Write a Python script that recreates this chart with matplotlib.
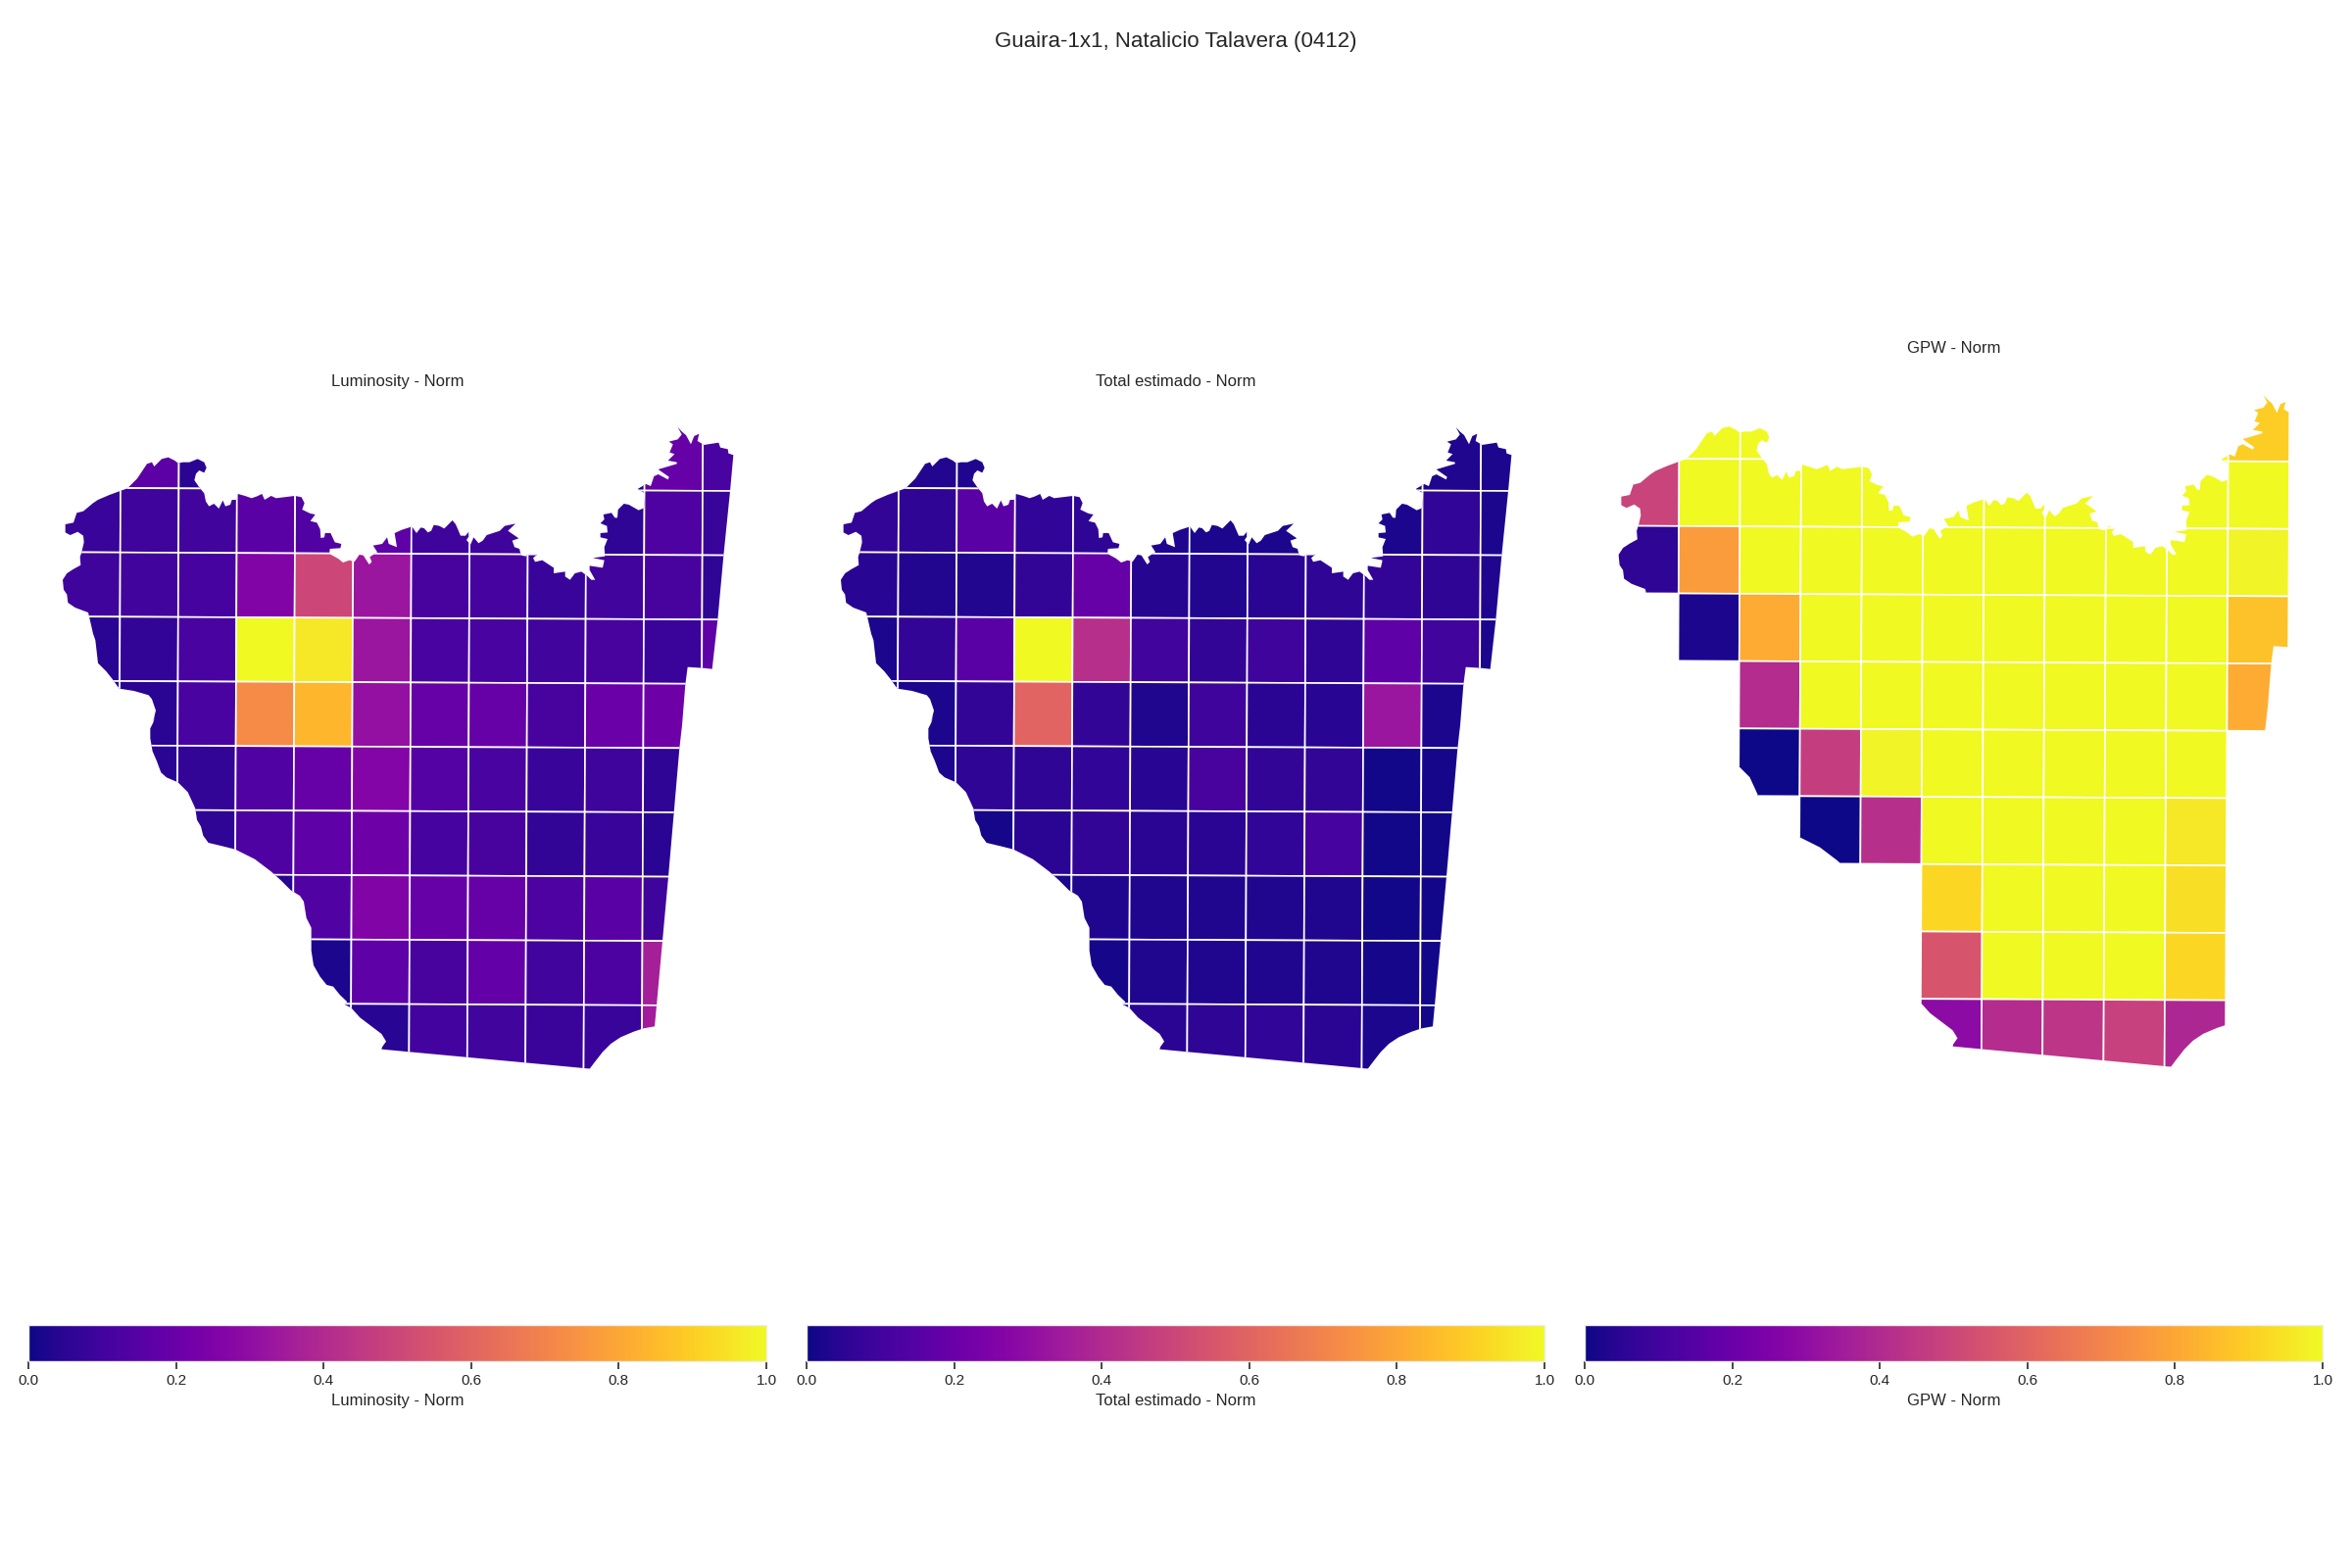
"""Guaira-1x1: three normalised grid maps side by side, each with its own colorbar."""

import matplotlib
matplotlib.use("Agg")
import matplotlib.pyplot as plt
import numpy as np
from matplotlib.cm import ScalarMappable
from matplotlib.colors import Normalize
from matplotlib.patches import PathPatch, Polygon
from matplotlib.path import Path

N = np.nan

SUPTITLE = "Guaira-1x1, Natalicio Talavera (0412)"
PANEL_TITLES = ["Luminosity - Norm", "Total estimado - Norm", "GPW - Norm"]
CBAR_TICKS = [0.0, 0.2, 0.4, 0.6, 0.8, 1.0]

# one row per grid row (north to south), one column per grid column (west to east)
luminosity = [
    [N, .165, .05, N, N, N, N, N, N, .02, .19, .12],
    [.08, .09, .10, .16, .14, .17, .09, .09, N, .055, .13, .08],
    [.09, .10, .11, .26, .50, .33, .115, .11, .08, .10, .115, .055],
    [.05, .07, .12, 1.0, .96, .33, .12, .12, .10, .115, .085, .17],
    [.03, .05, .12, .72, .84, .31, .19, .19, .115, .20, .21, N],
    [N, .05, .07, .14, .19, .265, .145, .12, .08, .09, .06, N],
    [N, N, .06, .13, .17, .21, .11, .115, .07, .08, .05, N],
    [N, N, N, .05, .14, .26, .19, .19, .13, .16, .09, N],
    [N, N, N, N, .02, .17, .115, .18, .10, .125, .36, N],
    [N, N, N, N, .03, .045, .105, .10, .085, .08, .35, N],
]
total_estimado = [
    [N, .035, .03, N, N, N, N, N, N, .02, .03, .025],
    [.07, .06, .16, .065, .06, .03, .02, .02, N, .025, .065, .025],
    [.045, .035, .035, .07, .19, .04, .035, .05, .055, .07, .055, .03],
    [.02, .07, .16, 1.0, .42, .10, .07, .09, .06, .17, .10, .02],
    [.02, .02, .07, .60, .07, .03, .09, .05, .045, .33, .02, N],
    [N, .02, .055, .06, .065, .045, .115, .07, .07, .01, .015, N],
    [N, N, .015, .05, .07, .05, .05, .065, .11, .01, .01, N],
    [N, N, N, .02, .03, .03, .03, .03, .03, .01, .01, N],
    [N, N, N, N, .015, .03, .03, .03, .03, .015, .01, N],
    [N, N, N, N, .02, .05, .055, .065, .05, .02, .01, N],
]
gpw = [
    [N, 1.0, 1.0, N, N, N, N, N, N, 1.0, .90, N],
    [.49, 1.0, 1.0, 1.0, 1.0, 1.0, 1.0, 1.0, 1.0, 1.0, 1.0, N],
    [.06, .77, 1.0, 1.0, 1.0, 1.0, 1.0, 1.0, 1.0, 1.0, .985, N],
    [N, .02, .81, 1.0, 1.0, 1.0, 1.0, 1.0, 1.0, 1.0, .87, N],
    [N, N, .41, 1.0, 1.0, 1.0, 1.0, 1.0, 1.0, 1.0, .81, N],
    [N, N, 0.0, .47, .985, 1.0, 1.0, 1.0, 1.0, 1.0, N, N],
    [N, N, N, 0.0, .42, 1.0, 1.0, 1.0, 1.0, .96, N, N],
    [N, N, N, N, N, .92, 1.0, 1.0, 1.0, .94, N, N],
    [N, N, N, N, N, .55, 1.0, 1.0, 1.0, .92, N, N],
    [N, N, N, N, N, .29, .41, .44, .48, .39, N, N],
]
PANEL_VALUES = [luminosity, total_estimado, gpw]

north_west = (40, 420, [
    (80, 345), (105, 340), (115, 310), (135, 305), (165, 280), (180, 270), (215, 255), (270, 235),
    (300, 205), (320, 175), (330, 160), (345, 155), (352, 168), (375, 145), (395, 140), (415, 150),
    (425, 158), (440, 155), (460, 155), (485, 145), (505, 155), (512, 172), (505, 187), (490, 180),
    (480, 190), (475, 210), (490, 232), (505, 250), (510, 275), (520, 290), (535, 282), (550, 297),
    (562, 272), (570, 290), (585, 285), (590, 270), (605, 270), (608, 252), (630, 258), (650, 265),
    (665, 260), (682, 252), (690, 270), (710, 258), (725, 265), (783, 258), (803, 262), (812, 280),
    (805, 300), (830, 312), (845, 315), (830, 335), (850, 340), (860, 360), (862, 387), (873, 385),
    (875, 372), (892, 372), (905, 400), (925, 405), (922, 418), (890, 420), (888, 435), (915, 450),
    (930, 462), (950, 455), (965, 460), (980, 438), (992, 440), (1010, 468), (1018, 460), (1012, 445),
    (1035, 430), (1022, 410), (1050, 405), (1065, 385), (1070, 405), (1095, 415), (1088, 372),
    (1110, 362), (1138, 353),
])
north_east = (420, 420, [
    (3, 355), (15, 372), (28, 355), (38, 357), (50, 370), (60, 365), (68, 347), (85, 350), (100, 358),
    (125, 333), (135, 345), (150, 380), (165, 380), (175, 368), (178, 378), (168, 393), (180, 408),
    (190, 385), (205, 403), (218, 395), (230, 378), (270, 365), (285, 350), (318, 343), (295, 365),
    (328, 388), (308, 395), (315, 415), (330, 420), (335, 440), (350, 443), (362, 432), (385, 437),
    (372, 448), (378, 460), (400, 455), (435, 478), (435, 495), (470, 490), (470, 505), (485, 515),
    (500, 495), (520, 490), (540, 505), (550, 515), (562, 515), (545, 485), (545, 472), (585, 478),
    (590, 455), (555, 448), (592, 443), (590, 415), (600, 390), (578, 385), (578, 372), (600, 370),
    (598, 350), (578, 342), (590, 330), (587, 315), (612, 310), (622, 325), (630, 325), (632, 300),
    (650, 282), (665, 285), (695, 302), (712, 295), (715, 250), (692, 237), (712, 225), (718, 222),
    (732, 228), (742, 198), (755, 192), (785, 208), (788, 200), (755, 177), (812, 160), (812, 155),
    (785, 150), (805, 130), (790, 125), (800, 100), (788, 92), (815, 85), (827, 70), (815, 48),
    (828, 62), (840, 72), (855, 100), (865, 75), (880, 68), (875, 90), (895, 102), (940, 95), (945, 110),
    (968, 115), (970, 128), (985, 133), (975, 243), (955, 440), (937, 637), (920, 788), (893, 785),
    (845, 782), (838, 835), (828, 960),
])
south_east = (500, 730, [
    (580, 100), (563, 297), (546, 493), (528, 690), (510, 888), (504, 952), (470, 958), (440, 968),
    (400, 985), (370, 1005), (345, 1030), (320, 1062), (305, 1082), (288, 1080), (108, 1063),
])
south_west = (120, 730, [
    (893, 1030), (808, 1022), (810, 1015), (822, 998), (808, 975), (775, 950), (742, 925), (715, 895),
    (695, 885), (703, 877), (680, 855), (660, 830), (640, 825), (620, 800), (600, 765), (593, 720),
    (593, 650), (578, 620), (570, 570), (558, 552), (530, 535), (500, 505), (470, 478), (420, 440),
    (360, 410), (320, 400), (278, 390), (262, 368), (255, 340), (243, 320), (238, 285), (215, 235),
    (185, 205), (150, 190), (133, 175), (120, 140), (107, 110), (100, 70), (100, 40), (110, 20), (115, 0),
])
west = (40, 420, [
    (347, 955), (357, 915), (345, 880), (335, 868), (290, 855), (245, 848), (225, 820), (205, 795),
    (180, 770), (172, 700), (165, 680), (157, 645), (150, 615), (110, 600), (88, 585), (85, 560),
    (75, 545), (72, 515), (85, 495), (105, 482), (127, 470), (125, 445), (130, 430), (137, 400),
    (135, 380), (118, 368), (95, 378), (80, 370),
])
OUTLINE_PARTS = [north_west, north_east, south_east, south_west, west]

FIG_W, FIG_H = 2400, 1600


def outline_path() -> Path:
    points = []
    for ox, oy, part in OUTLINE_PARTS:
        points += [(ox + px / 3, oy + py / 3) for px, py in part]
    points.append(points[0])
    return Path(points, closed=True)


def grid_node(i: int, j: int) -> tuple[float, float]:
    # the grid is rotated very slightly against the page
    return (122.7 + 59.4 * i - 0.3 * (j - 2), 563.7 + 0.28 * i + 65.65 * (j - 2))


def add_axes_px(fig, left: float, top: float, right: float, bottom: float):
    return fig.add_axes([left / FIG_W, 1 - bottom / FIG_H, (right - left) / FIG_W, (bottom - top) / FIG_H])


def draw_map(ax, values, cmap, norm) -> None:
    boundary = PathPatch(outline_path(), facecolor="none", edgecolor="none", transform=ax.transData)
    ax.add_patch(boundary)
    for row, row_values in enumerate(values):
        for col, value in enumerate(row_values):
            if np.isnan(value):
                continue
            corners = [
                grid_node(col - 1, row), grid_node(col, row),
                grid_node(col, row + 1), grid_node(col - 1, row + 1),
            ]
            cell = Polygon(corners, facecolor=cmap(norm(value)), edgecolor="white", linewidth=0.6)
            ax.add_patch(cell)
            cell.set_clip_path(boundary)
    ax.axis("off")


def main() -> None:
    plt.rcParams["font.family"] = ["Liberation Sans", "DejaVu Sans"]
    plt.rcParams["text.color"] = "#262626"
    plt.rcParams["xtick.color"] = "#262626"
    plt.rcParams["xtick.labelcolor"] = "#262626"
    plt.rcParams["axes.labelcolor"] = "#262626"

    fig = plt.figure(figsize=(12, 8), dpi=200)
    cmap = plt.get_cmap("plasma")
    norm = Normalize(0, 1)

    # page box of each map and the map window shown in it
    map_boxes = [(30, 403, 782, 1123), (824, 403, 1576, 1123), (1617, 368.5, 2371, 1121.5)]
    map_windows = [(30, 782, 1123, 403), (30, 782, 1123, 403), (31, 750.4, 1122, 403)]
    cbar_boxes = [(29, 1352, 782, 1389), (823, 1352, 1576, 1389), (1617, 1352, 2370, 1389)]

    for k, title in enumerate(PANEL_TITLES):
        ax = add_axes_px(fig, *map_boxes[k])
        x0, x1, y0, y1 = map_windows[k]
        ax.set_xlim(x0, x1)
        ax.set_ylim(y0, y1)
        draw_map(ax, PANEL_VALUES[k], cmap, norm)
        ax.set_title(title, fontsize=6, pad=3.2)

        cax = add_axes_px(fig, *cbar_boxes[k])
        cbar = fig.colorbar(ScalarMappable(norm=norm, cmap=cmap), cax=cax, orientation="horizontal")
        cbar.set_ticks(CBAR_TICKS)
        cbar.ax.tick_params(labelsize=5.5, length=3, width=0.6, pad=1.8)
        cbar.set_label(title, fontsize=6, labelpad=2.2)
        cbar.outline.set_edgecolor("#eeeeee")
        cbar.outline.set_linewidth(0.5)

    fig.suptitle(SUPTITLE, fontsize=8, x=0.5, y=1 - 42.5 / FIG_H, va="center")
    fig.savefig("out.png", dpi=200)
    plt.close(fig)


if __name__ == "__main__":
    main()
